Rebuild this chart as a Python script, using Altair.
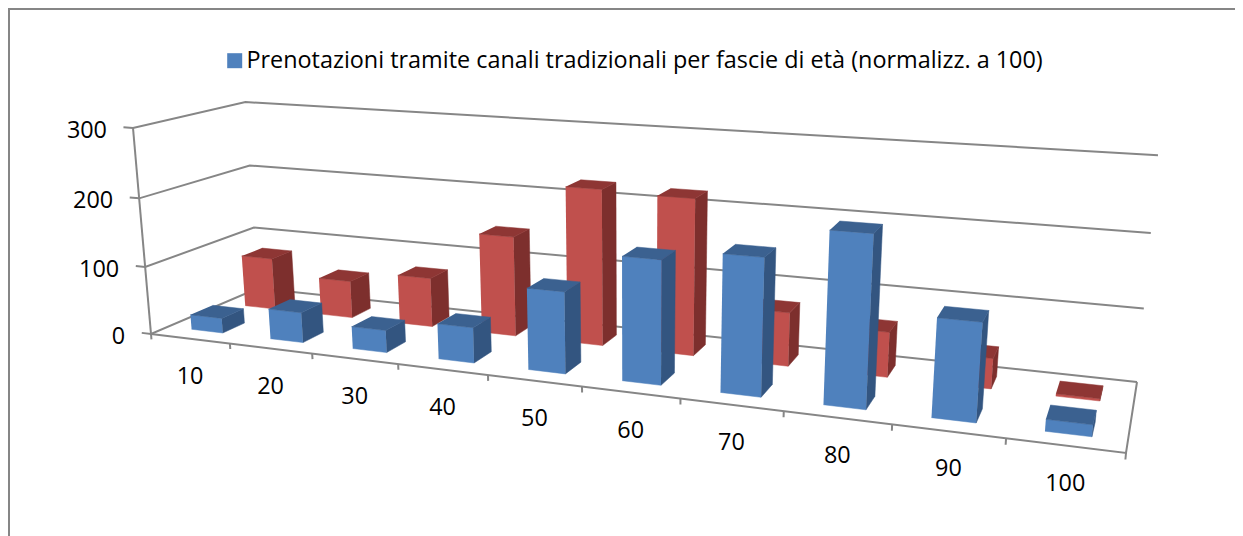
import altair as alt
import numpy as np
import pandas as pd

LEGEND_LABEL = "Prenotazioni tramite canali tradizionali per fascie di età (normalizz. a 100)"
categories = ["10", "20", "30", "40", "50", "60", "70", "80", "90", "100"]
blue_values = [22, 44, 32, 50, 113, 168, 183, 224, 127, 15]
red_values = [79, 56, 73, 146, 224, 221, 75, 62, 41, 3]
value_ticks = [0, 100, 200, 300]

# perspective frame of the 3-D box: floor corners front-left, front-right, back-right, back-left
floor_quad = [(151, 334), (1126, 453), (1137, 382), (258, 288.23)]
vertical_vanish = np.array([632.0, 5839.0])   # where the box's verticals converge
height_persp = -0.03607
V_MAX = 300.0


def homography(q):
    (x0, y0), (x1, y1), (x2, y2), (x3, y3) = q
    dx1, dx2, sx = x1 - x2, x3 - x2, x0 - x1 + x2 - x3
    dy1, dy2, sy = y1 - y2, y3 - y2, y0 - y1 + y2 - y3
    den = dx1 * dy2 - dx2 * dy1
    g = (sx * dy2 - dx2 * sy) / den
    h = (dx1 * sy - sx * dy1) / den
    return np.array([[x1 - x0 + g * x1, x3 - x0 + h * x3, x0],
                     [y1 - y0 + g * y1, y3 - y0 + h * y3, y0],
                     [g, h, 1.0]])


H0 = homography(floor_quad)


def project(c, d, v):
    """category position c (0-10), depth d (0 front - 1 back), value v."""
    a = H0 @ np.array([c / 10.0, d, 1.0])
    t = v / V_MAX
    return (a[:2] + height_persp * t * vertical_vanish) / (a[2] + height_persp * t)


shades = [LEGEND_LABEL, "blue side", "blue top", "red front", "red side", "red top"]
shade_colors = ["#4F81BD", "#335580", "#3B6190", "#C0504D", "#7D2F2D", "#8E3634"]

rows = []
poly = 0


def add_poly(shade, corners):
    global poly
    for k, (c, d, v) in enumerate(corners):
        x, y = project(c, d, v)
        rows.append({"poly": poly, "k": k, "shade": shade, "px": x, "py": y})
    poly += 1


def add_bar(i, d0, d1, value, front, side, top):
    c0, c1 = i + 0.3, i + 0.7
    add_poly(front, [(c0, d0, 0), (c1, d0, 0), (c1, d0, value), (c0, d0, value)])
    add_poly(side, [(c1, d0, 0), (c1, d1, 0), (c1, d1, value), (c1, d0, value)])
    add_poly(top, [(c0, d0, value), (c1, d0, value), (c1, d1, value), (c0, d1, value)])


for i, val in enumerate(red_values):
    add_bar(i, 0.65, 0.85, val, "red front", "red side", "red top")
for i, val in enumerate(blue_values):
    add_bar(i, 0.15, 0.35, val, LEGEND_LABEL, "blue side", "blue top")
bars = pd.DataFrame(rows)

lines = []
lid = 0


def add_line(points):
    global lid
    for k, (x, y) in enumerate(points):
        lines.append({"line": lid, "k": k, "px": x, "py": y})
    lid += 1


for v in value_ticks:
    add_line([project(-0.12, 0, v), project(0, 0, v), project(0, 1, v), project(10, 1, v)])
add_line([project(0, 0, 0), project(0, 0, V_MAX)])
add_line([project(0, 0, 0), project(10, 0, 0), project(10, 1, 0)])
for c in range(0, 11):
    add_line([project(c, 0, 0), project(c, 0, -8)])
grid = pd.DataFrame(lines)

frame = pd.DataFrame({"px": [9, 9, 1235], "py": [536, 9, 9], "k": [0, 1, 2]})

cat_labels = pd.DataFrame(
    [{"label": t, "px": project(i + 0.5, 0, 0)[0], "py": project(i + 0.5, 0, 0)[1]}
     for i, t in enumerate(categories)])
val_labels = pd.DataFrame(
    [{"label": str(v), "px": project(0, 0, v)[0], "py": project(0, 0, v)[1]}
     for v in value_ticks])

X = alt.X("px:Q", scale=alt.Scale(domain=[8, 1235]), axis=None)
Y = alt.Y("py:Q", scale=alt.Scale(domain=[536, 8]), axis=None)

frame_layer = alt.Chart(frame).mark_line(color="#868686", strokeWidth=2).encode(x=X, y=Y, order="k:Q")
grid_layer = alt.Chart(grid).mark_line(color="#868686", strokeWidth=2).encode(
    x=X, y=Y, detail="line:N", order="k:Q")
scale = alt.Scale(domain=shades, range=shade_colors)
bar_layer = alt.Chart(bars).mark_line(strokeWidth=0.5).encode(
    x=X, y=Y, order="k:Q", detail="poly:N",
    fill=alt.Fill("shade:N", scale=scale, legend=alt.Legend(
        values=[LEGEND_LABEL], title=None, orient="none", legendX=215, legendY=41,
        symbolType="square", symbolSize=225, symbolStrokeWidth=0, labelFont="Open Sans",
        labelFontSize=23.4, labelColor="#000000", labelLimit=1000, labelOffset=0)),
    stroke=alt.Stroke("shade:N", scale=scale, legend=None),
)
cat_text = alt.Chart(cat_labels).mark_text(
    font="Open Sans", fontSize=23.4, color="#000000", dy=38, align="center", baseline="middle"
).encode(x=X, y=Y, text="label:N")
val_text = alt.Chart(val_labels).mark_text(
    font="Open Sans", fontSize=23.4, color="#000000", dx=-26, dy=3, align="right", baseline="middle"
).encode(x=X, y=Y, text="label:N")

chart = alt.layer(frame_layer, grid_layer, bar_layer, cat_text, val_text).properties(
    width=1227, height=528, padding=0, autosize=alt.AutoSizeParams(type="none"),
).configure_view(stroke=None)

chart.save("out.html", embed_options={"renderer": "svg", "actions": False})
